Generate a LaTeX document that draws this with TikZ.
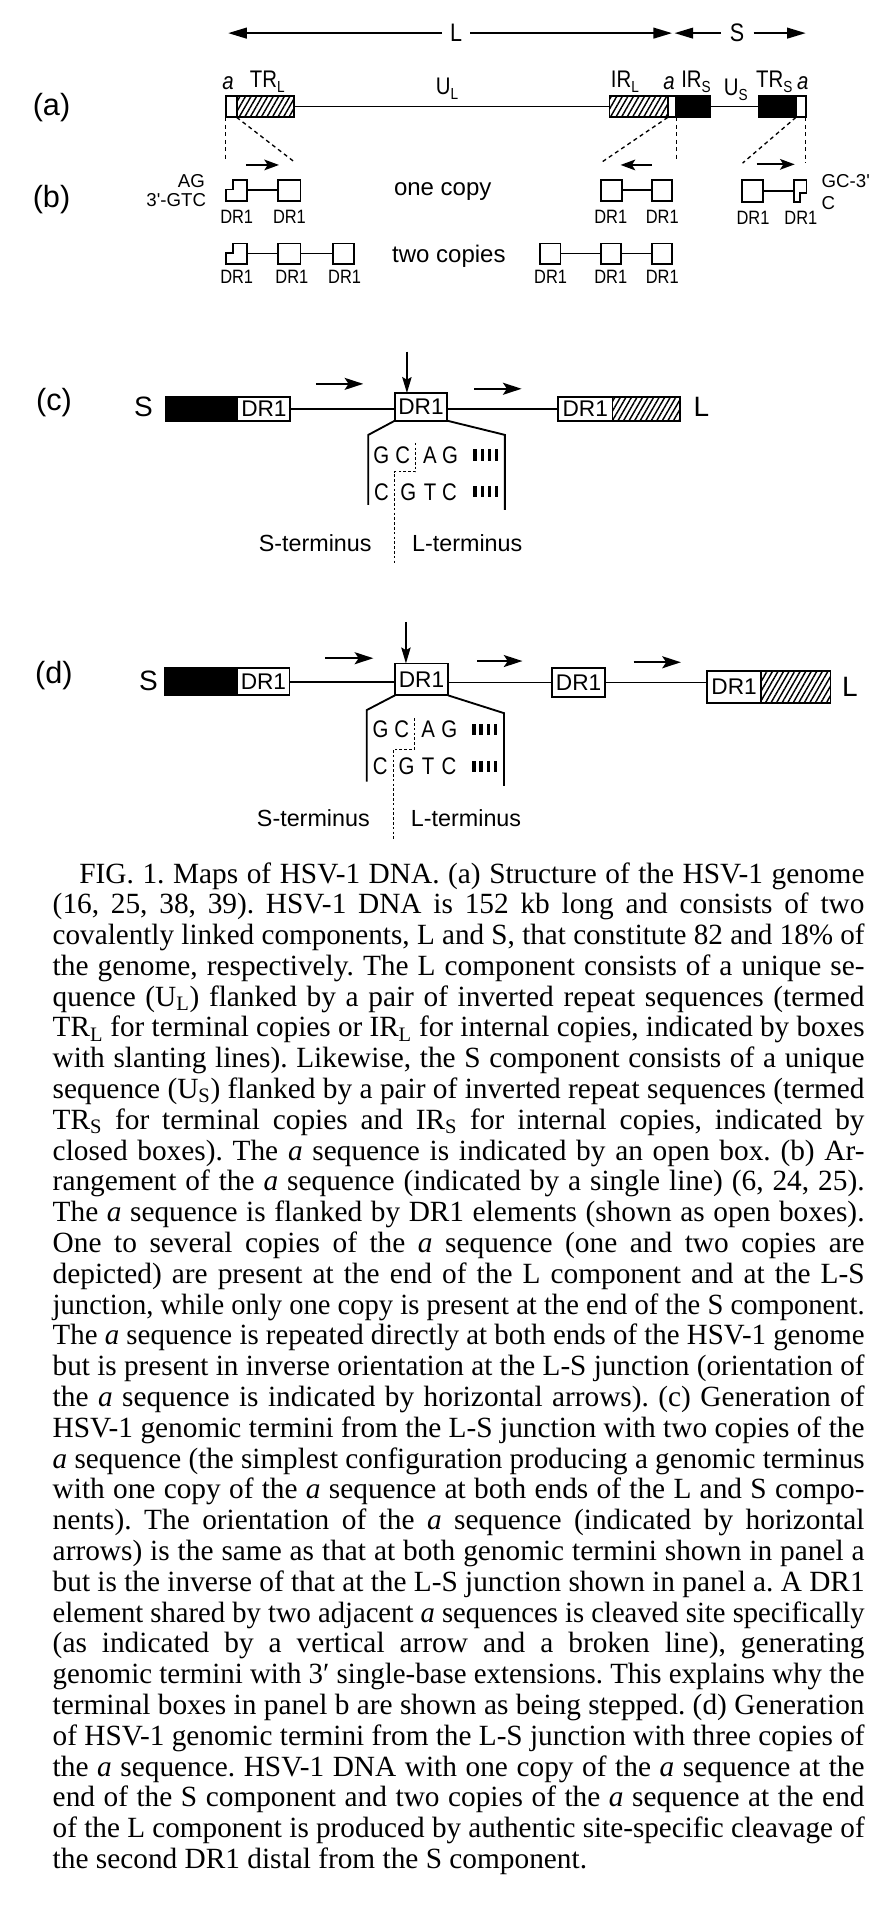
\documentclass[tikz,border=0pt]{standalone}
\usepackage{graphicx}
\usepackage{fontspec}
\setmainfont{Liberation Serif}
\newfontfamily\fsans{Liberation Sans}
\newfontfamily\fcond[FakeStretch=0.85]{Liberation Sans}
\usetikzlibrary{arrows.meta,patterns.meta}
\newlength\capw
\setlength\capw{609pt}
\newcommand\capln[1]{\setbox0=\hbox{#1}\ifdim\wd0>\capw\hbox to\capw{\resizebox{\capw}{\height}{\box0}}\else\hbox to\capw{\unhbox0}\fi}
\newcommand\mkbox[7]{\node[#2, minimum width={(#5-#3)*0.92pt}, minimum height={(#6-#4)*0.92pt}] (#1) at ({(#3+#5)/2},{(#4+#6)/2}) {#7};}
\tikzset{
  every node/.style={inner sep=0, outer sep=0},
  ln/.style={line width=1.4pt},
  bxw/.style={draw, line width=1.4pt, fill=white},
  bxk/.style={draw, line width=1.4pt, fill=black},
  bxh/.style={draw, line width=1.4pt, pattern={Lines[angle=60,distance=3.6pt,line width=1.1pt]}},
  ghost/.style={minimum size=1pt},
  dsh/.style={line width=1pt, dash pattern=on 3pt off 2.6pt},
  dot/.style={line width=1pt, dash pattern=on 2pt off 1.6pt},
  bigarr/.style={line width=1.5pt, -{Triangle[length=14pt,width=8pt]}},
  sarr/.style={line width=1.4pt, -{Stealth[length=11pt,width=8pt,inset=2.5pt]}},
  carr/.style={line width=1.5pt, -{Stealth[length=14pt,width=9pt,inset=3pt]}},
  varr/.style={line width=1.4pt, -{Stealth[length=12pt,width=7pt,inset=2pt]}},
  plab/.style={font=\fsans\fontsize{23}{23}\selectfont},
  alab/.style={font=\fcond\fontsize{18}{18}\selectfont, anchor=base},
  blab/.style={font=\fcond\fontsize{14.5}{14.5}\selectfont},
  btxt/.style={font=\fsans\fontsize{18}{18}\selectfont},
  small/.style={font=\fsans\fontsize{14}{14}\selectfont},
  drt/.style={font=\fsans\fontsize{17}{17}\selectfont},
  endl/.style={font=\fsans\fontsize{21}{21}\selectfont},
  seq/.style={font=\fcond\fontsize{18}{18}\selectfont},
  term/.style={font=\fsans\fontsize{17.5}{17.5}\selectfont},
}
\newcommand\sub[1]{\raisebox{-0.22em}{\fontsize{12}{12}\selectfont #1}}
\begin{document}
\begin{tikzpicture}[x=0.92pt,y=-0.92pt]
\useasboundingbox (0,0) rectangle (728,1568);
\fill[white] (0,0) rectangle (728,1568);

% ---------------- panel (a)
\node[plab] (pa) at (42,88) {(a)};
\node[font=\fcond\fontsize{19}{19}\selectfont, inner sep=6pt] (Ltop) at (372,27) {L};
\coordinate (Ltl) at (186,27); \coordinate (Ltr) at (548,27);
\draw[bigarr] (Ltop) -- (Ltl);
\draw[bigarr] (Ltop) -- (Ltr);
\node[font=\fcond\fontsize{19}{19}\selectfont, inner sep=7pt] (Stop) at (601,27) {S};
\coordinate (Stl) at (550,27); \coordinate (Str) at (657,27);
\draw[bigarr] (Stop) -- (Stl);
\draw[bigarr] (Stop) -- (Str);

\mkbox{aL}{bxw}{184}{78}{193}{95.7}{}
\mkbox{trl}{bxh}{193}{78}{240}{95.7}{}
\mkbox{irl}{bxh}{497}{78}{544.5}{95.7}{}
\mkbox{aR}{bxw}{544.5}{78}{551.5}{95.7}{}
\mkbox{irs}{bxk}{551.5}{78}{579}{95.7}{}
\mkbox{trs}{bxk}{619}{78}{649}{95.7}{}
\mkbox{aT}{bxw}{649}{78}{657}{95.7}{}
\draw[ln] (trl.east) -- (irl.west);
\draw[ln] (irs.east) -- (trs.west);

\node[alab] (la1) at (186,73) {\itshape a};
\node[alab] (ltrl) at (218,71.5) {TR\sub{L}};
\node[alab] (lul) at (364.5,77) {U\sub{L}};
\node[alab] (lirl) at (509.5,71.5) {IR\sub{L}};
\node[alab] (la2) at (545.5,73) {\itshape a};
\node[alab] (lirs) at (567.5,71.5) {IR\sub{S}};
\node[alab] (lus) at (600,77.5) {U\sub{S}};
\node[alab] (ltrs) at (631.3,71.5) {TR\sub{S}};
\node[alab] (la3) at (654.5,73) {\itshape a};

\coordinate (d1) at (184,132); \coordinate (d2) at (240,132);
\coordinate (d3) at (491,132); \coordinate (d4) at (551.5,132);
\coordinate (d5) at (605.5,133); \coordinate (d6) at (657,133);
\draw[dsh] (aL.south west) -- (d1);
\draw[dsh] (aL.south east) -- (d2);
\draw[dsh] (aR.south west) -- (d3);
\draw[dsh] (aR.south east) -- (d4);
\draw[dsh] (aT.south west) -- (d5);
\draw[dsh] (aT.south east) -- (d6);

% ---------------- panel (b)
\node[plab] (pb) at (42,163) {(b)};
\node[small, anchor=east] (tAG) at (167,147.5) {AG};
\node[small, anchor=east] (tGTC) at (168,163.5) {3'-GTC};
\node[small, anchor=west] (tGC) at (670,148) {GC-3'};
\node[small, anchor=west] (tC) at (670,165.5) {C};
\node[btxt] (onecopy) at (361,156) {one copy};
\node[btxt] (twocopies) at (366,209) {two copies};

\coordinate (ba1s) at (200.5,134.5); \coordinate (ba1e) at (227.5,134.5);
\coordinate (ba2s) at (531.5,134.5); \coordinate (ba2e) at (506,134.5);
\coordinate (ba3s) at (617,134); \coordinate (ba3e) at (648,134);
\draw[sarr] (ba1s) -- (ba1e);
\draw[sarr] (ba2s) -- (ba2e);
\draw[sarr] (ba3s) -- (ba3e);

% row 1
\mkbox{b11}{ghost}{184.3}{146.5}{201.6}{164}{}
\draw[ln] (189.7,146.5) -- (201.6,146.5) -- (201.6,164) -- (184.3,164) -- (184.3,154.5) -- (189.7,154.5) -- cycle;
\mkbox{b12}{bxw}{227}{146.5}{245}{164}{}
\draw[ln] (b11.east) -- (b12.west);
\mkbox{b13}{bxw}{490}{146.5}{507}{164}{}
\mkbox{b14}{bxw}{531.5}{146.5}{548}{164}{}
\draw[ln] (b13.east) -- (b14.west);
\mkbox{b15}{bxw}{604.7}{147}{622.3}{165}{}
\mkbox{b16}{ghost}{647.3}{147}{657.6}{165}{}
\draw[ln] (647.3,147) -- (657.6,147) -- (657.6,157.6) -- (652.2,157.6) -- (652.2,165) -- (647.3,165) -- cycle;
\draw[ln] (b15.east) -- (b15.east -| b16.west);

\node[blab] (l11) at (193,177) {DR1};
\node[blab] (l12) at (236,177) {DR1};
\node[blab] (l13) at (498,177) {DR1};
\node[blab] (l14) at (540,177) {DR1};
\node[blab] (l15) at (614,178) {DR1};
\node[blab] (l16) at (653,178) {DR1};

% row 2
\mkbox{b21}{ghost}{184.3}{198.5}{201.6}{215}{}
\draw[ln] (189.7,198.5) -- (201.6,198.5) -- (201.6,215) -- (184.3,215) -- (184.3,206.5) -- (189.7,206.5) -- cycle;
\mkbox{b22}{bxw}{227}{198.5}{245}{215}{}
\mkbox{b23}{bxw}{271.6}{198.5}{288.8}{215}{}
\draw[ln] (b21.east) -- (b22.west);
\draw[ln] (b22.east) -- (b23.west);
\mkbox{b24}{bxw}{440}{198.5}{457}{215}{}
\mkbox{b25}{bxw}{490}{198.5}{506.5}{215}{}
\mkbox{b26}{bxw}{531.5}{198.5}{548}{215}{}
\draw[ln] (b24.east) -- (b25.west);
\draw[ln] (b25.east) -- (b26.west);
\node[blab] (l21) at (193,225.6) {DR1};
\node[blab] (l22) at (238,225.6) {DR1};
\node[blab] (l23) at (281,225.6) {DR1};
\node[blab] (l24) at (449,225.6) {DR1};
\node[blab] (l25) at (498,225.6) {DR1};
\node[blab] (l26) at (540,225.6) {DR1};

% ---------------- panel (c)
\node[plab] (pc) at (44,328) {(c)};
\node[endl] (cS) at (117,332) {S};
\mkbox{c1}{bxk}{135}{323.5}{193.6}{343}{}
\mkbox{c2}{bxw,drt}{193.6}{323.5}{236.8}{343}{DR1}
\mkbox{c3}{bxw,drt}{322}{320.5}{364.5}{343}{DR1}
\mkbox{c4}{bxw,drt}{455}{323.5}{499.4}{343}{DR1}
\mkbox{c5}{bxh}{499.4}{323.5}{554.7}{343}{}
\node[endl] (cL) at (572,332) {L};
\draw[ln] (c2.east) -- (c2.east -| c3.west);
\draw[ln] (c3.east |- c4.west) -- (c4.west);
\coordinate (ca1s) at (257.5,313); \coordinate (ca1e) at (296.2,313);
\coordinate (ca2s) at (386.5,317); \coordinate (ca2e) at (425.3,317);
\draw[carr] (ca1s) -- (ca1e);
\draw[carr] (ca2s) -- (ca2e);
\coordinate (cv) at (331.8,286.7);
\draw[varr] (cv) -- (cv |- c3.north);
\coordinate (ct1) at (300.3,354.6); \coordinate (ct2) at (300.3,411.7);
\coordinate (ct3) at (411.7,354.6); \coordinate (ct4) at (411.7,415.8);
\draw[line width=1.4pt] (c3.south west) -- (ct1) -- (ct2);
\draw[line width=1.4pt] (c3.south east) -- (ct3) -- (ct4);
\foreach \t/\x/\n in {G/311/1,C/328.3/2,A/350.6/3,G/366.9/4}
  \node[seq] (cr1\n) at (\x,371) {\t};
\foreach \t/\x/\n in {C/311/1,G/332.9/2,T/350.6/3,C/366.5/4}
  \node[seq] (cr2\n) at (\x,401) {\t};
\foreach \x in {387.4,393.2,399,404.8} {
  \draw[line width=2.5pt] (\x,366.5) -- (\x,375.5);
  \draw[line width=2.5pt] (\x,396.5) -- (\x,405.5);
}
\draw[dot] (338.9,361) -- (338.9,384.5) -- (321.5,384.5) -- (321.5,460.6);
\node[term] (cSt) at (257,443) {S-terminus};
\node[term] (cLt) at (381,443) {L-terminus};

% ---------------- panel (d)
\node[plab] (pd) at (44,551) {(d)};
\node[endl] (dS) at (121,555) {S};
\mkbox{e1}{bxk}{134.5}{545}{193.5}{567}{}
\mkbox{e2}{bxw,drt}{193.5}{545}{236.1}{567}{DR1}
\mkbox{e3}{bxw,drt}{322}{541}{365.4}{567}{DR1}
\mkbox{e4}{bxw,drt}{450}{545}{493.5}{568}{DR1}
\mkbox{e5}{bxw,drt}{576.8}{547}{620.3}{573}{DR1}
\mkbox{e6}{bxh}{620.3}{547}{677.2}{573}{}
\node[endl] (dL) at (693,560) {L};
\draw[ln] (e2.east) -- (e2.east -| e3.west);
\draw[ln] (e3.east |- e4.west) -- (e4.west);
\draw[ln] (e4.east) -- (e4.east -| e5.west);
\coordinate (da1s) at (265,536.7); \coordinate (da1e) at (304.4,536.7);
\coordinate (da2s) at (389,539); \coordinate (da2e) at (426,539);
\coordinate (da3s) at (516.7,540); \coordinate (da3e) at (555.2,540);
\draw[carr] (da1s) -- (da1e);
\draw[carr] (da2s) -- (da2e);
\draw[carr] (da3s) -- (da3e);
\coordinate (dv) at (331,507);
\draw[varr] (dv) -- (dv |- e3.north);
\coordinate (dt1) at (299,579); \coordinate (dt2) at (299,637.3);
\coordinate (dt3) at (411,581.5); \coordinate (dt4) at (411,640.8);
\draw[line width=1.4pt] (e3.south west) -- (dt1) -- (dt2);
\draw[line width=1.4pt] (e3.south east) -- (dt3) -- (dt4);
\foreach \t/\x/\n in {G/310.3/1,C/327.5/2,A/349.2/3,G/366.3/4}
  \node[seq] (dr1\n) at (\x,595) {\t};
\foreach \t/\x/\n in {C/310/1,G/331.5/2,T/349/3,C/366/4}
  \node[seq] (dr2\n) at (\x,625) {\t};
\foreach \x in {386.5,392.3,398.1,403.9} {
  \draw[line width=2.5pt] (\x,590.5) -- (\x,599.5);
  \draw[line width=2.5pt] (\x,620.5) -- (\x,629.5);
}
\draw[dot] (337.8,585.6) -- (337.8,610.9) -- (320.7,610.9) -- (320.7,684.8);
\node[term] (dSt) at (255.5,667.2) {S-terminus};
\node[term] (dLt) at (380,667.2) {L-terminus};

% ---------------- caption
\node[anchor=base west, font=\fontsize{22}{23.1}\selectfont] (caption) at (43,720) {\vtop{\baselineskip=23.1pt\frenchspacing
\capln{\hskip 20pt FIG. 1. Maps of HSV-1 DNA. (a) Structure of the HSV-1 genome}
\capln{(16, 25, 38, 39). HSV-1 DNA is 152 kb long and consists of two}
\capln{covalently linked components, L and S, that constitute 82 and 18\% of}
\capln{the genome, respectively. The L component consists of a unique se-}
\capln{quence (U\textsubscript{L}) flanked by a pair of inverted repeat sequences (termed}
\capln{TR\textsubscript{L} for terminal copies or IR\textsubscript{L} for internal copies, indicated by boxes}
\capln{with slanting lines). Likewise, the S component consists of a unique}
\capln{sequence (U\textsubscript{S}) flanked by a pair of inverted repeat sequences (termed}
\capln{TR\textsubscript{S} for terminal copies and IR\textsubscript{S} for internal copies, indicated by}
\capln{closed boxes). The \textit{a} sequence is indicated by an open box. (b) Ar-}
\capln{rangement of the \textit{a} sequence (indicated by a single line) (6, 24, 25).}
\capln{The \textit{a} sequence is flanked by DR1 elements (shown as open boxes).}
\capln{One to several copies of the \textit{a} sequence (one and two copies are}
\capln{depicted) are present at the end of the L component and at the L-S}
\capln{junction, while only one copy is present at the end of the S component.}
\capln{The \textit{a} sequence is repeated directly at both ends of the HSV-1 genome}
\capln{but is present in inverse orientation at the L-S junction (orientation of}
\capln{the \textit{a} sequence is indicated by horizontal arrows). (c) Generation of}
\capln{HSV-1 genomic termini from the L-S junction with two copies of the}
\capln{\textit{a} sequence (the simplest configuration producing a genomic terminus}
\capln{with one copy of the \textit{a} sequence at both ends of the L and S compo-}
\capln{nents). The orientation of the \textit{a} sequence (indicated by horizontal}
\capln{arrows) is the same as that at both genomic termini shown in panel a}
\capln{but is the inverse of that at the L-S junction shown in panel a. A DR1}
\capln{element shared by two adjacent \textit{a} sequences is cleaved site specifically}
\capln{(as indicated by a vertical arrow and a broken line), generating}
\capln{genomic termini with 3′ single-base extensions. This explains why the}
\capln{terminal boxes in panel b are shown as being stepped. (d) Generation}
\capln{of HSV-1 genomic termini from the L-S junction with three copies of}
\capln{the \textit{a} sequence. HSV-1 DNA with one copy of the \textit{a} sequence at the}
\capln{end of the S component and two copies of the \textit{a} sequence at the end}
\capln{of the L component is produced by authentic site-specific cleavage of}
\hbox{the second DR1 distal from the S component.}
}};
\end{tikzpicture}
\end{document}
